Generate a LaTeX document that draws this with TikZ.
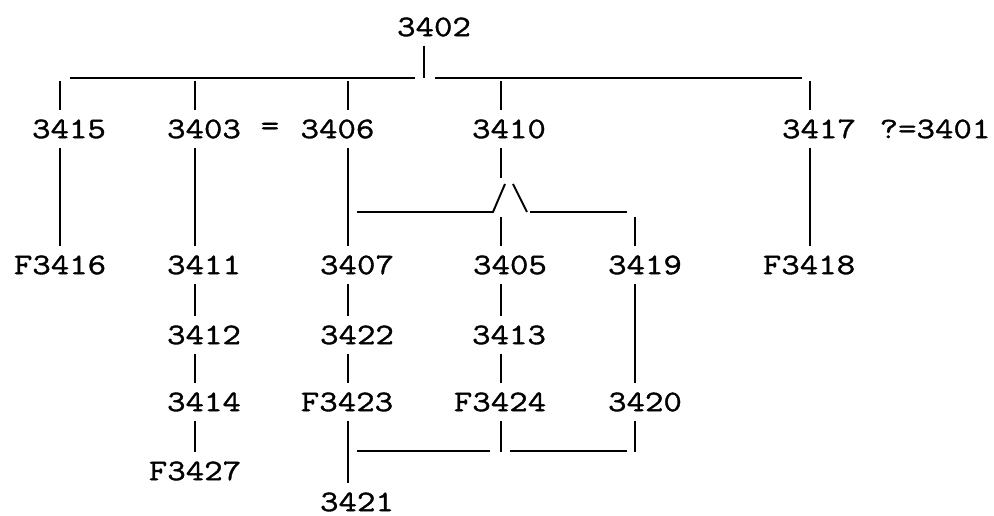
\documentclass[tikz,border=0pt]{standalone}
\usepackage{fontspec}
\setmonofont{Latin Modern Mono}[FakeStretch=1.2, FakeBold=1.2]
\begin{document}
\begin{tikzpicture}[x=0.02cm, y=-0.02cm,
        lbl/.style={font=\ttfamily\fontsize{17}{20}\selectfont, inner xsep=0pt, inner ysep=5pt},
        ln/.style={line width=1.1pt}]
        \useasboundingbox (0,0) rectangle (994,516);

        % columns and rails
        \coordinate (colA) at (60,0);
        \coordinate (colB) at (195,0);
        \coordinate (colC) at (348,0);
        \coordinate (colD) at (501,0);
        \coordinate (colE) at (635,0);
        \coordinate (colF) at (810,0);
        \coordinate (colTop) at (424,0);
        \coordinate (bar) at (0,81);
        \coordinate (split) at (0,217);
        \coordinate (join) at (0,452);

        % labels
        \node[lbl] (n3402) at (434,27) {3402};
        \node[lbl] (n3415) at (69,129) {3415};
        \node[lbl] (n3403) at (204,129) {3403};
        \node[lbl] (eq) at (270,129) {=};
        \node[lbl] (n3406) at (337.5,129) {3406};
        \node[lbl] (n3410) at (509,129) {3410};
        \node[lbl] (n3417) at (819,129) {3417};
        \node[lbl] (q3401) at (935,129) {?=3401};

        \node[lbl] (nF3416) at (60,265) {F3416};
        \node[lbl] (n3411) at (204,265) {3411};
        \node[lbl] (n3407) at (357,265) {3407};
        \node[lbl] (n3405) at (510,265) {3405};
        \node[lbl] (n3419) at (645,265) {3419};
        \node[lbl] (nF3418) at (809,265) {F3418};

        \node[lbl] (n3412) at (204,335) {3412};
        \node[lbl] (n3422) at (357,335) {3422};
        \node[lbl] (n3413) at (509,335) {3413};

        \node[lbl] (n3414) at (204,402) {3414};
        \node[lbl] (nF3423) at (347,402) {F3423};
        \node[lbl] (nF3424) at (500,402) {F3424};
        \node[lbl] (n3420) at (645,402) {3420};

        \node[lbl] (nF3427) at (195,471) {F3427};
        \node[lbl, inner ysep=1pt] (n3421) at (357,502) {3421};

        % top bar
        \coordinate (barL) at (70,78);
        \coordinate (barML) at (415,78);
        \coordinate (barMR) at (435,78);
        \coordinate (barR) at (802,78);
        \draw[ln] (n3402.south -| colTop) -- (barML -| colTop);
        \draw[ln] (barL) -- (barML);
        \draw[ln] (barMR) -- (barR);
        \draw[ln] (bar -| colA) -- (n3415.north -| colA);
        \draw[ln] (bar -| colB) -- (n3403.north -| colB);
        \draw[ln] (bar -| colC) -- (n3406.north -| colC);
        \draw[ln] (bar -| colD) -- (n3410.north -| colD);
        \draw[ln] (bar -| colF) -- (n3417.north -| colF);

        % left branches
        \draw[ln] (n3415.south -| colA) -- (nF3416.north -| colA);
        \draw[ln] (n3403.south -| colB) -- (n3411.north -| colB);
        \draw[ln] (n3411.south -| colB) -- (n3412.north -| colB);
        \draw[ln] (n3412.south -| colB) -- (n3414.north -| colB);
        \draw[ln] (n3414.south -| colB) -- (nF3427.north -| colB);
        \draw[ln] (n3406.south -| colC) -- (n3407.north -| colC);
        \draw[ln] (n3407.south -| colC) -- (n3422.north -| colC);
        \draw[ln] (n3422.south -| colC) -- (nF3423.north -| colC);
        \draw[ln] (nF3423.south -| colC) -- ([yshift=4pt]n3421.north -| colC);

        % middle bracket with the /\ crossing
        \coordinate (peak) at (501,178);
        \coordinate (brL) at (357,212);
        \coordinate (slA) at (493,212);
        \coordinate (slB) at (505,184);
        \coordinate (bsA) at (513,184);
        \coordinate (bsB) at (527,212);
        \coordinate (brRA) at (530,212);
        \coordinate (brR) at (627,212);
        \draw[ln] (n3410.south -| colD) -- (peak);
        \draw[ln] (brL) -- (slA) -- (slB);
        \draw[ln] (bsA) -- (bsB);
        \draw[ln] (brRA) -- (brR);
        \draw[ln] (split -| colD) -- (n3405.north -| colD);
        \draw[ln] (split -| colE) -- (n3419.north -| colE);
        \draw[ln] (n3405.south -| colD) -- (n3413.north -| colD);
        \draw[ln] (n3413.south -| colD) -- (nF3424.north -| colD);
        \draw[ln] (n3419.south -| colE) -- (n3420.north -| colE);

        % right branch
        \draw[ln] (n3417.south -| colF) -- (nF3418.north -| colF);

        % bottom bracket
        \coordinate (jnL) at (357,451);
        \coordinate (jnLA) at (490,451);
        \coordinate (jnRA) at (510,451);
        \coordinate (jnR) at (627,451);
        \draw[ln] (jnL) -- (jnLA);
        \draw[ln] (jnRA) -- (jnR);
        \draw[ln] (nF3424.south -| colD) -- (join -| colD);
        \draw[ln] (n3420.south -| colE) -- (join -| colE);
    \end{tikzpicture}
\end{document}
